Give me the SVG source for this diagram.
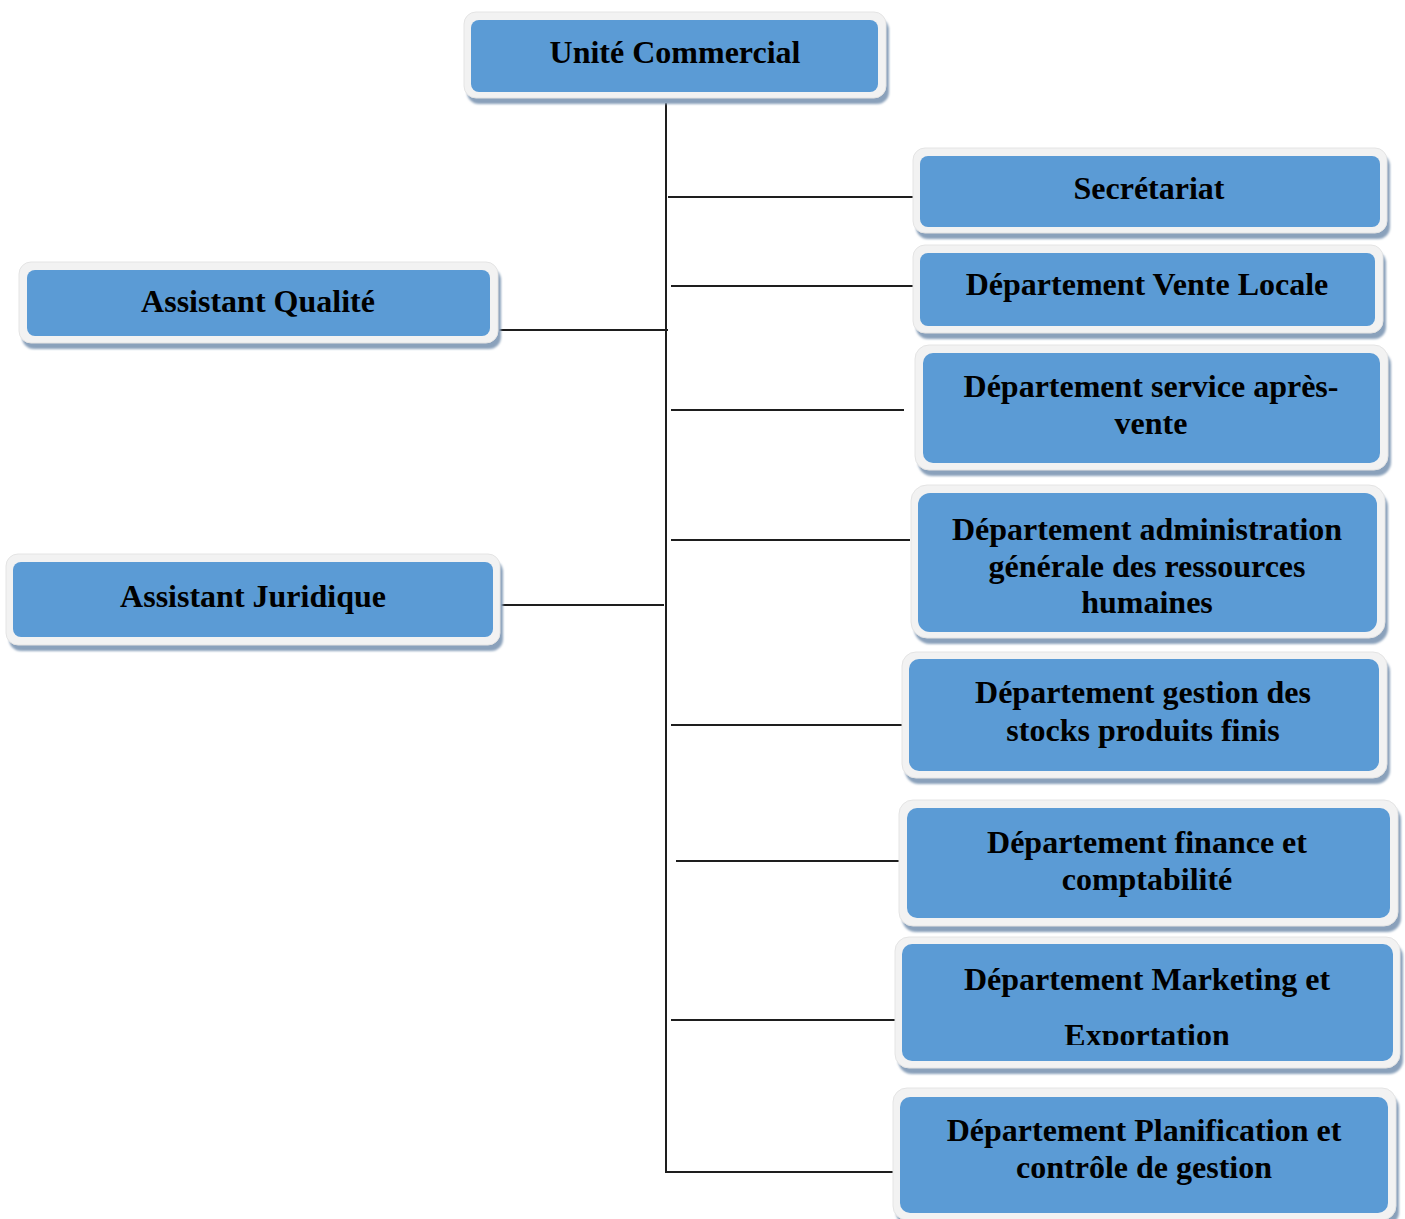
<svg xmlns="http://www.w3.org/2000/svg" width="1405" height="1219" viewBox="0 0 1405 1219">
  <style>
    .shadow { fill: #8aa1bb; filter: url(#soft); }
    .frame { fill: #f2f2f2; stroke: #e4e4e4; stroke-width: 1; }
    .body { fill: #5b9bd5; }
    .label { font-family: "Liberation Serif", "Times New Roman", serif; font-weight: bold; font-size: 32px; fill: #000; text-anchor: middle; }
    .link { stroke: #1e1e1e; stroke-width: 2; fill: none; }
  </style>
  <defs>
    <filter id="soft" x="-5%" y="-10%" width="110%" height="120%">
      <feGaussianBlur stdDeviation="1.2"/>
    </filter>
    <clipPath id="cut-marketing">
      <rect x="902" y="944" width="491" height="101"/>
    </clipPath>
  </defs>
  <rect width="1405" height="1219" fill="#ffffff"/>

  <!-- connectors -->
  <g id="connectors">
    <line class="link" x1="666" y1="103" x2="666" y2="1173"/>
    <line class="link" x1="668" y1="197" x2="913" y2="197"/>
    <line class="link" x1="671" y1="286" x2="913" y2="286"/>
    <line class="link" x1="497" y1="330" x2="668" y2="330"/>
    <line class="link" x1="671" y1="410" x2="904" y2="410"/>
    <line class="link" x1="671" y1="540" x2="910" y2="540"/>
    <line class="link" x1="493" y1="605" x2="664" y2="605"/>
    <line class="link" x1="671" y1="725" x2="904" y2="725"/>
    <line class="link" x1="676" y1="861" x2="908" y2="861"/>
    <line class="link" x1="671" y1="1020" x2="903" y2="1020"/>
    <line class="link" x1="666" y1="1172" x2="900" y2="1172"/>
  </g>

  <g id="unite-commercial">
    <rect class="shadow" x="467" y="18" width="422" height="86" rx="12"/>
    <rect class="frame" x="464" y="12" width="422" height="86" rx="12"/>
    <rect class="body" x="471" y="20" width="407" height="72" rx="8"/>
    <text class="label" x="675" y="63">Unité Commercial</text>
  </g>

  <g id="secretariat">
    <rect class="shadow" x="916" y="154" width="474" height="85" rx="12"/>
    <rect class="frame" x="913" y="148" width="474" height="85" rx="12"/>
    <rect class="body" x="920" y="156" width="460" height="71" rx="8"/>
    <text class="label" x="1149" y="199">Secrétariat</text>
  </g>

  <g id="vente-locale">
    <rect class="shadow" x="916" y="251" width="470" height="88" rx="12"/>
    <rect class="frame" x="913" y="245" width="470" height="88" rx="12"/>
    <rect class="body" x="920" y="253" width="455" height="73" rx="8"/>
    <text class="label" x="1147" y="295">Département Vente Locale</text>
  </g>

  <g id="service-apres-vente">
    <rect class="shadow" x="918" y="351" width="473" height="125" rx="14"/>
    <rect class="frame" x="915" y="345" width="473" height="125" rx="14"/>
    <rect class="body" x="923" y="353" width="457" height="110" rx="10"/>
    <text class="label" x="1151" y="397">Département service après-</text>
    <text class="label" x="1151" y="434">vente</text>
  </g>

  <g id="administration-rh">
    <rect class="shadow" x="914" y="491" width="474" height="153" rx="16"/>
    <rect class="frame" x="911" y="485" width="474" height="153" rx="16"/>
    <rect class="body" x="918" y="493" width="459" height="139" rx="12"/>
    <text class="label" x="1147" y="540">Département administration</text>
    <text class="label" x="1147" y="577">générale des ressources</text>
    <text class="label" x="1147" y="613">humaines</text>
  </g>

  <g id="gestion-stocks">
    <rect class="shadow" x="905" y="658" width="485" height="126" rx="14"/>
    <rect class="frame" x="902" y="652" width="485" height="126" rx="14"/>
    <rect class="body" x="909" y="659" width="470" height="112" rx="10"/>
    <text class="label" x="1143" y="703">Département gestion des</text>
    <text class="label" x="1143" y="741">stocks produits finis</text>
  </g>

  <g id="finance-comptabilite">
    <rect class="shadow" x="902" y="806" width="499" height="126" rx="14"/>
    <rect class="frame" x="899" y="800" width="499" height="126" rx="14"/>
    <rect class="body" x="907" y="808" width="483" height="110" rx="10"/>
    <text class="label" x="1147" y="853">Département finance et</text>
    <text class="label" x="1147" y="890">comptabilité</text>
  </g>

  <g id="marketing-exportation">
    <rect class="shadow" x="898" y="943" width="505" height="131" rx="14"/>
    <rect class="frame" x="895" y="937" width="505" height="131" rx="14"/>
    <rect class="body" x="902" y="944" width="491" height="117" rx="10"/>
    <g clip-path="url(#cut-marketing)">
      <text class="label" x="1147" y="990">Département Marketing et</text>
      <text class="label" x="1147" y="1046">Exportation</text>
    </g>
  </g>

  <g id="planification-controle">
    <rect class="shadow" x="896" y="1094" width="503" height="132" rx="14"/>
    <rect class="frame" x="893" y="1088" width="503" height="132" rx="14"/>
    <rect class="body" x="900" y="1097" width="488" height="116" rx="10"/>
    <text class="label" x="1144" y="1141">Département Planification et</text>
    <text class="label" x="1144" y="1178">contrôle de gestion</text>
  </g>

  <g id="assistant-qualite">
    <rect class="shadow" x="22" y="268" width="479" height="81" rx="12"/>
    <rect class="frame" x="19" y="262" width="479" height="81" rx="12"/>
    <rect class="body" x="27" y="270" width="463" height="66" rx="8"/>
    <text class="label" x="258" y="312">Assistant Qualité</text>
  </g>

  <g id="assistant-juridique">
    <rect class="shadow" x="9" y="560" width="494" height="91" rx="12"/>
    <rect class="frame" x="6" y="554" width="494" height="91" rx="12"/>
    <rect class="body" x="13" y="562" width="480" height="75" rx="8"/>
    <text class="label" x="253" y="607">Assistant Juridique</text>
  </g>
</svg>
